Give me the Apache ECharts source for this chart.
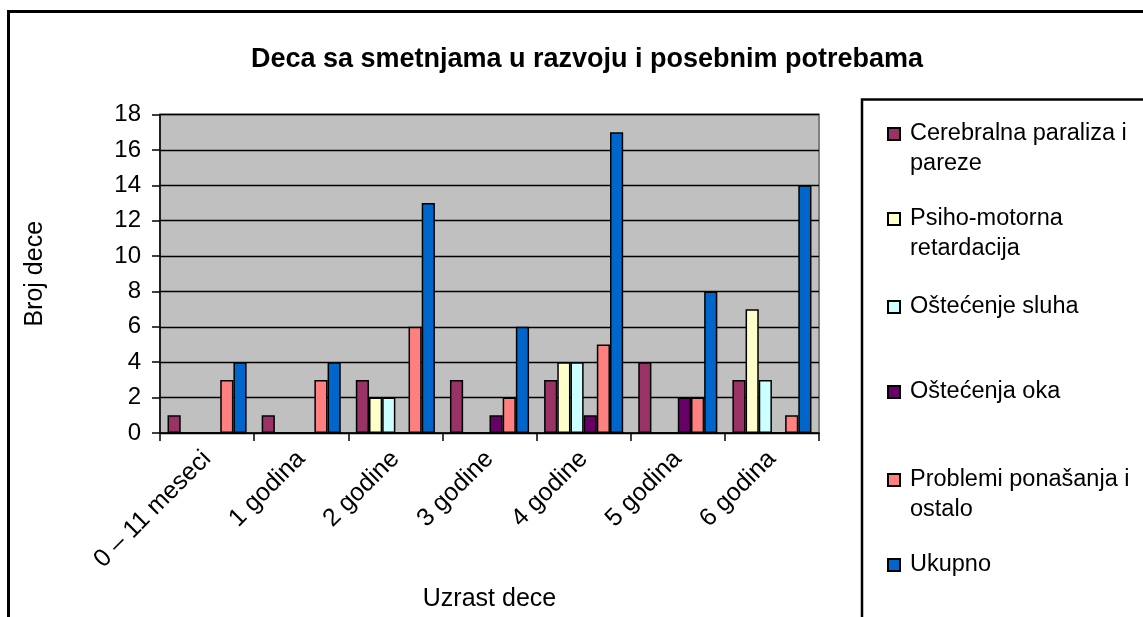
<!DOCTYPE html>
<html>
<head>
<meta charset="utf-8">
<script src="https://cdn.jsdelivr.net/npm/echarts@6/dist/echarts.min.js"></script>
<style>
html,body{margin:0;padding:0;background:#fff;}
#chart{width:1143px;height:617px;}
</style>
</head>
<body>
<div id="chart"></div>
<script>
var categories = ['0 – 11 meseci', '1 godina', '2 godine', '3 godine', '4 godine', '5 godina', '6 godina'];
var seriesNames = ['Cerebralna paraliza i pareze', 'Psiho-motorna retardacija', 'Oštećenje sluha', 'Oštećenja oka', 'Problemi ponašanja i ostalo', 'Ukupno'];
var cerebralna = [1, 1, 3, 3, 3, 4, 3];
var psihoMotorna = [0, 0, 2, 0, 4, 0, 7];
var ostecenjeSluha = [0, 0, 2, 0, 4, 0, 3];
var ostecenjaOka = [0, 0, 0, 1, 1, 2, 0];
var problemi = [3, 3, 6, 2, 5, 2, 1];
var ukupno = [4, 4, 13, 6, 17, 8, 14];
var yTicks = [0, 2, 4, 6, 8, 10, 12, 14, 16, 18];

var seriesValues = [cerebralna, psihoMotorna, ostecenjeSluha, ostecenjaOka, problemi, ukupno];
var colors = ['#993366', '#FFFFCC', '#CCFFFF', '#660066', '#FF8080', '#0066CC'];
var legendLabels = ['Cerebralna paraliza i\npareze', 'Psiho-motorna\nretardacija', 'Oštećenje sluha', 'Oštećenja oka', 'Problemi ponašanja i\nostalo', 'Ukupno'];
var legendCenters = [134, 219, 307, 392, 480, 565];

var FONT = 'Liberation Sans, Arial, sans-serif';

var legends = seriesNames.map(function (n, i) {
  var twoLine = legendLabels[i].indexOf('\n') >= 0;
  return {
    orient: 'vertical',
    left: 887,
    top: legendCenters[i] - (twoLine ? 45 : 15),
    padding: 0,
    selectedMode: false,
    data: [n],
    icon: 'rect',
    itemWidth: 12,
    itemHeight: 12,
    formatter: function () { return twoLine ? ' \n' + legendLabels[i] : legendLabels[i]; },
    textStyle: {
      fontFamily: FONT,
      fontSize: 23.5,
      color: '#000',
      lineHeight: 30,
      padding: [0, 0, 0, 5]
    }
  };
});

var series = seriesNames.map(function (n, i) {
  return {
    name: n,
    type: 'bar',
    data: seriesValues[i],
    barGap: '0%',
    barCategoryGap: '16%',
    itemStyle: { color: colors[i], borderColor: '#000', borderWidth: 1.5 },
    emphasis: { disabled: true },
    animation: false
  };
});

var chart = echarts.init(document.getElementById('chart'), null, { renderer: 'canvas' });
chart.setOption({
  backgroundColor: '#ffffff',
  animation: false,
  color: colors,
  title: {
    text: 'Deca sa smetnjama u razvoju i posebnim potrebama',
    left: 582,
    textAlign: 'center',
    top: 41,
    textStyle: { fontFamily: FONT, fontSize: 27, fontWeight: 'bold', color: '#000' }
  },
  legend: legends,
  grid: {
    left: 160, right: 324, top: 114.5, bottom: 182.5,
    show: true, backgroundColor: '#C0C0C0', borderColor: '#808080', borderWidth: 2
  },
  xAxis: {
    type: 'category',
    data: categories,
    boundaryGap: true,
    name: 'Uzrast dece',
    nameLocation: 'middle',
    nameGap: 154,
    nameTextStyle: { fontFamily: FONT, fontSize: 25, color: '#000' },
    axisLine: { lineStyle: { color: '#000', width: 1.5 } },
    axisTick: { show: true, length: 8, alignWithLabel: false, lineStyle: { color: '#000', width: 1.5 } },
    axisLabel: { rotate: 45, margin: 22, fontFamily: FONT, fontSize: 25, color: '#000', interval: 0 },
    splitLine: { show: false }
  },
  yAxis: {
    type: 'value',
    min: yTicks[0],
    max: yTicks[yTicks.length - 1],
    interval: yTicks[1] - yTicks[0],
    name: 'Broj dece',
    nameLocation: 'middle',
    nameGap: 112,
    nameTextStyle: { fontFamily: FONT, fontSize: 25, color: '#000' },
    axisLine: { show: true, lineStyle: { color: '#000', width: 1.5 } },
    axisTick: { show: true, length: 8, lineStyle: { color: '#000', width: 1.5 } },
    axisLabel: { margin: 19, fontFamily: FONT, fontSize: 24, color: '#000' },
    splitLine: { show: true, lineStyle: { color: '#000', width: 1.3 } }
  },
  graphic: [
    { type: 'rect', silent: true, shape: { x: 8.5, y: 11.5, width: 2000, height: 2000 }, style: { fill: null, stroke: '#000', lineWidth: 3 } },
    { type: 'rect', silent: true, shape: { x: 862, y: 99.5, width: 1000, height: 1000 }, style: { fill: null, stroke: '#000', lineWidth: 2.5 } }
  ],
  series: series
});
</script>
</body>
</html>
